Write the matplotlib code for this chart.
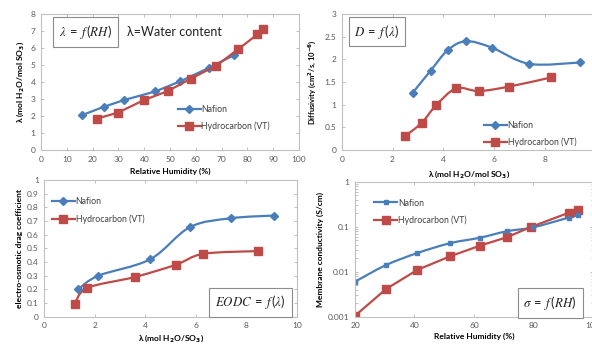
"""Membrane property comparison: Nafion vs hydrocarbon (VT)."""

import matplotlib

matplotlib.use("Agg")
import matplotlib.pyplot as plt
import numpy as np
from matplotlib.lines import Line2D
from matplotlib.patches import PathPatch
from matplotlib.path import Path
from matplotlib.ticker import FixedLocator, LogLocator, NullFormatter

plt.rcParams["font.family"] = ["Lato", "DejaVu Sans"]
plt.rcParams["mathtext.default"] = "regular"

BLUE = "#4a7ebb"
RED = "#be4b48"
AXIS_GRAY = "#c0c0c0"
TICK_TEXT = "#595959"

# water uptake: lambda vs RH
rh_naf_1 = [15.8, 24.4, 32.3, 44.3, 54.0, 65.2, 74.9]
lam_naf_1 = [2.05, 2.55, 2.95, 3.45, 4.05, 4.85, 5.6]
rh_hc_1 = [21.6, 29.8, 40.0, 49.1, 58.0, 68.0, 76.5, 83.9, 85.9]
lam_hc_1 = [1.85, 2.2, 2.95, 3.47, 4.2, 4.98, 5.95, 6.82, 7.12]

# diffusivity vs lambda
lam_naf_2 = [2.79, 3.50, 4.17, 4.89, 5.90, 7.38, 9.38]
diff_naf = [1.26, 1.75, 2.2, 2.4, 2.26, 1.9, 1.93]
lam_hc_2 = [2.50, 3.15, 3.72, 4.51, 5.40, 6.60, 8.24]
diff_hc = [0.31, 0.6, 0.99, 1.36, 1.3, 1.4, 1.6]

# electro-osmotic drag vs lambda
lam_naf_3 = [1.34, 2.14, 4.19, 5.76, 7.38, 9.08]
eodc_naf = [0.2, 0.3, 0.42, 0.655, 0.72, 0.74]
lam_hc_3 = [1.20, 1.70, 3.58, 5.21, 6.30, 8.46]
eodc_hc = [0.09, 0.21, 0.29, 0.38, 0.46, 0.48]

# conductivity vs RH
rh_naf_4 = [20, 30.4, 41.0, 52.0, 62.1, 71.0, 80.0, 92.0, 94.9]
sigma_naf = [0.0060, 0.0140, 0.026, 0.043, 0.057, 0.079, 0.097, 0.16, 0.178]
rh_hc_4 = [20, 30.4, 41.0, 52.0, 62.1, 71.0, 79.1, 92.0, 95.1]
sigma_hc = [0.00105, 0.0041, 0.011, 0.022, 0.038, 0.058, 0.098, 0.205, 0.235]

lam_label = r"λ (mol H$_{\mathbf{2}}$O/mol SO$_{\mathbf{3}}$)"
lam_label_short = r"λ (mol H$_{\mathbf{2}}$O/SO$_{\mathbf{3}}$)"


def style_axes(ax):
    for side in ["left", "right", "top", "bottom"]:
        ax.spines[side].set_color(AXIS_GRAY)
        ax.spines[side].set_linewidth(0.8)
    ax.tick_params(
        which="both", direction="in", top=True, right=True, color=AXIS_GRAY,
        labelsize=6, labelcolor=TICK_TEXT, length=2.5, width=0.7, pad=4,
    )
    ax.tick_params(which="minor", length=1.8)


def smooth_line(ax, x, y, color, lw=1.6):
    """Excel-like smoothed line drawn as bezier segments in display space."""
    pts = ax.transData.transform(np.column_stack([x, y]))
    verts = [pts[0]]
    codes = [Path.MOVETO]
    n = len(pts)
    for i in range(n - 1):
        p0 = pts[i - 1] if i > 0 else pts[i]
        p1, p2 = pts[i], pts[i + 1]
        p3 = pts[i + 2] if i + 2 < n else pts[i + 1]
        verts += [p1 + (p2 - p0) / 6, p2 - (p3 - p1) / 6, p2]
        codes += [Path.CURVE4] * 3
    patch = PathPatch(Path(verts, codes), facecolor="none", edgecolor=color,
                      linewidth=lw, transform=matplotlib.transforms.IdentityTransform(),
                      zorder=2)
    patch.set_clip_path(ax.patch)
    ax.add_artist(patch)


def add_legend(ax, loc, naf_marker="D", naf_size=3.8):
    handles = [
        Line2D([], [], color=BLUE, lw=1.6, marker=naf_marker, markersize=naf_size),
        Line2D([], [], color=RED, lw=1.6, marker="s", markersize=5.2),
    ]
    ax.legend(handles, ["Nafion", "Hydrocarbon (VT)"], loc=loc, frameon=False,
              fontsize=6.3, handlelength=2.6, handletextpad=0.1, labelspacing=0.9,
              borderpad=0.3, labelcolor="#404040")


def formula_box(ax, x, y, text):
    ax.text(x, y, text, transform=ax.transAxes, fontsize=9.3, math_fontfamily="stix",
            ha="center", va="center", color="#222222",
            bbox=dict(boxstyle="square,pad=0.45", fc="white", ec="#8c8c8c", lw=0.8))


fig = plt.figure(figsize=(5.92, 3.46), dpi=100)

# top-left: water content vs RH
ax1 = fig.add_axes([0.0693, 0.5665, 0.4358, 0.3922])
ax1.set_xlim(0, 100)
ax1.set_ylim(0, 8)
ax1.set_xticks(np.arange(0, 101, 10))
ax1.set_yticks(np.arange(0, 9, 1))
style_axes(ax1)
ax1.plot(rh_naf_1, lam_naf_1, color=BLUE, lw=1.6, marker="D", markersize=3.8)
ax1.plot(rh_hc_1, lam_hc_1, color=RED, lw=1.6, marker="s", markersize=5.2)
add_legend(ax1, (0.52, 0.12))
formula_box(ax1, 0.172, 0.87, r"$\mathit{\lambda}\;=\;\mathit{f}\,(\mathit{RH})$")
ax1.text(0.335, 0.87, "λ=Water content", transform=ax1.transAxes, fontsize=9,
         ha="left", va="center", color="#222222")
ax1.set_xlabel("Relative Humidity (%)", fontsize=6, fontweight="bold", labelpad=4)
ax1.set_ylabel(lam_label, fontsize=6, fontweight="bold", labelpad=3)

# top-right: diffusivity vs lambda
ax2 = fig.add_axes([0.5772, 0.5665, 0.4292, 0.3931])
ax2.set_xlim(0, 10)
ax2.set_ylim(0, 3)
ax2.set_xticks(np.arange(0, 11, 2))
ax2.set_yticks(np.arange(0, 3.01, 0.5))
ax2.set_yticklabels(["0", "0.5", "1", "1.5", "2", "2.5", "3"])
style_axes(ax2)
smooth_line(ax2, lam_naf_2, diff_naf, BLUE)
smooth_line(ax2, lam_hc_2, diff_hc, RED)
ax2.plot(lam_naf_2, diff_naf, ls="none", color=BLUE, marker="D", markersize=3.8)
ax2.plot(lam_hc_2, diff_hc, ls="none", color=RED, marker="s", markersize=5.2)
add_legend(ax2, (0.55, 0.0))
formula_box(ax2, 0.139, 0.87, r"$\mathit{D}\;=\;\mathit{f}\,(\mathit{\lambda})$")
ax2.set_xlabel(lam_label, fontsize=6, fontweight="bold", labelpad=4)
ax2.set_ylabel(r"Diffusivity (cm$^{\mathbf{2}}$/s, 10$^{\mathbf{-6}}$)", fontsize=5.5,
               fontweight="bold", labelpad=4)

# bottom-left: electro-osmotic drag vs lambda
ax3 = fig.add_axes([0.0748, 0.0847, 0.4269, 0.3951])
ax3.set_xlim(0, 10)
ax3.set_ylim(0, 1)
ax3.set_xticks(np.arange(0, 11, 2))
ax3.set_yticks(np.arange(0, 1.01, 0.1))
ax3.set_yticklabels(["0"] + [f"{v:.1f}" for v in np.arange(0.1, 0.95, 0.1)] + ["1"])
style_axes(ax3)
smooth_line(ax3, lam_naf_3, eodc_naf, BLUE)
smooth_line(ax3, lam_hc_3, eodc_hc, RED)
ax3.plot(lam_naf_3, eodc_naf, ls="none", color=BLUE, marker="D", markersize=3.8)
ax3.plot(lam_hc_3, eodc_hc, ls="none", color=RED, marker="s", markersize=5.2)
add_legend(ax3, (0.02, 0.66))
formula_box(ax3, 0.816, 0.104, r"$\mathit{EODC}\;=\;\mathit{f}\,(\mathit{\lambda})$")
ax3.set_xlabel(lam_label_short, fontsize=6, fontweight="bold", labelpad=2.5)
ax3.set_ylabel("electro-osmotic drag coefficient", fontsize=6, fontweight="bold", labelpad=3)

# bottom-right: conductivity vs RH
ax4 = fig.add_axes([0.5997, 0.0847, 0.4017, 0.3902])
ax4.set_yscale("log")
ax4.set_xlim(20, 100)
ax4.set_ylim(0.001, 1)
ax4.set_xticks(np.arange(20, 101, 20))
ax4.yaxis.set_major_locator(FixedLocator([0.001, 0.01, 0.1, 1]))
ax4.set_yticklabels(["0.001", "0.01", "0.1", "1"])
ax4.yaxis.set_minor_locator(LogLocator(base=10, subs=np.arange(2, 10)))
ax4.yaxis.set_minor_formatter(NullFormatter())
style_axes(ax4)
smooth_line(ax4, rh_naf_4, np.array(sigma_naf), BLUE)
ax4.plot(rh_hc_4, sigma_hc, color=RED, lw=1.6, marker="s", markersize=5.2)
ax4.plot(rh_naf_4, sigma_naf, ls="none", color=BLUE, marker="s", markersize=3.3)
add_legend(ax4, (0.07, 0.66), naf_marker="s", naf_size=3.3)
formula_box(ax4, 0.82, 0.10, r"$\mathit{\sigma}\;=\;\mathit{f}\,(\mathit{RH})$")
ax4.set_xlabel("Relative Humidity (%)", fontsize=6, fontweight="bold", labelpad=2.5)
ax4.set_ylabel("Membrane conductivity (S/cm)", fontsize=6, fontweight="bold", labelpad=3)

fig.savefig("out.png", dpi=100)
